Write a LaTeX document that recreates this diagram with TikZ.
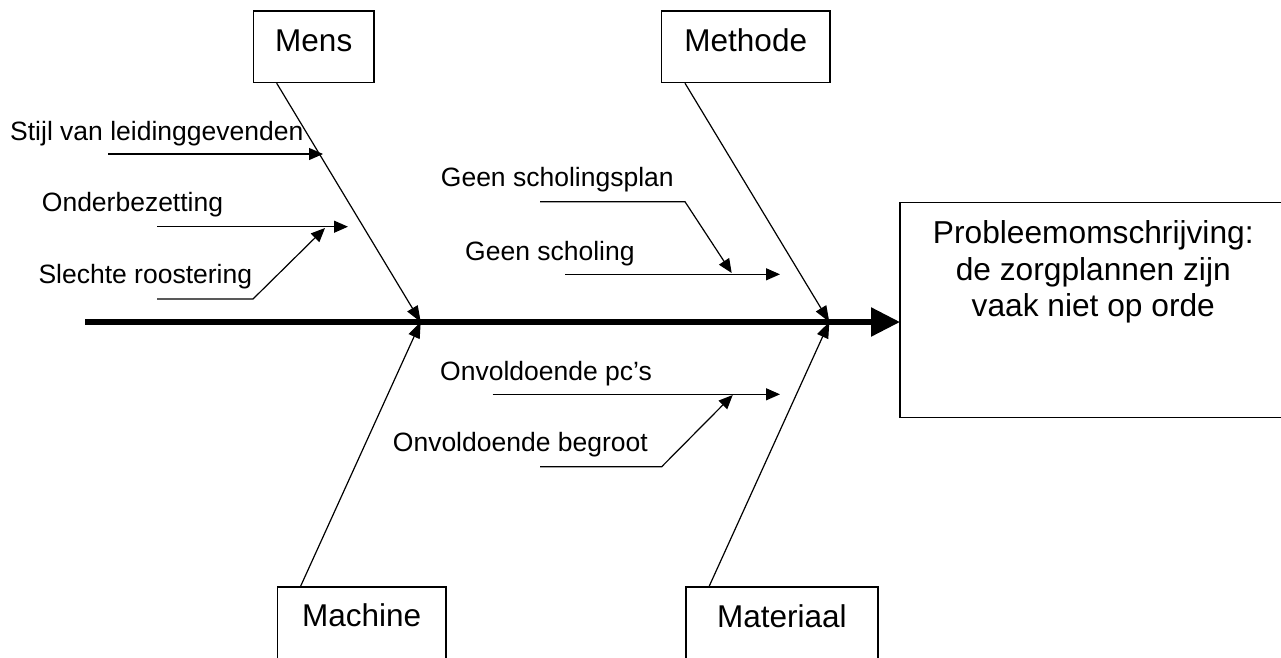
\documentclass[tikz,border=0pt]{standalone}
\usepackage{fontspec}
\setmainfont{Liberation Sans}
\usetikzlibrary{arrows.meta}
\begin{document}
\begin{tikzpicture}[x=1pt,y=-1pt,
  bonebox/.style={draw,line width=1.5pt,inner sep=0pt,anchor=north west,
     font=\fontsize{31.5}{36}\selectfont},
  lbl/.style={anchor=base west,inner sep=0pt,font=\fontsize{26.5}{30}\selectfont},
  bone/.style={line width=1.2pt,-{Triangle[length=16pt,width=12pt]}},
  cause/.style={line width=1.2pt,-{Triangle[length=14pt,width=12pt]}},
  spine/.style={line width=5.5pt,-{Triangle[length=29pt,width=28pt]}}]
\useasboundingbox (0,0) rectangle (1281,657);

% category boxes
\node[bonebox,minimum width=120.6pt,text height=40.7pt,text depth=31pt] (mens) at (252.7,10) {Mens};
\node[bonebox,minimum width=168.6pt,text height=40.7pt,text depth=31pt] (methode) at (660.7,10) {Methode};
\node[bonebox,minimum width=168.3pt,text height=39.7pt,text depth=50pt] (machine) at (276.7,586) {Machine};
\node[bonebox,minimum width=192.3pt,text height=40.7pt,text depth=50pt] (materiaal) at (685,586) {Materiaal};

% problem box (runs off the right edge)
\node[minimum width=387pt,minimum height=214.3pt,inner sep=0pt,anchor=north west] (prob) at (900,202.7) {};
\draw[line width=1.5pt] (prob.north east) -- (prob.north west) -- (prob.south west) -- (prob.south east);
\node[anchor=base,inner sep=0pt,font=\fontsize{31.7}{36.7}\selectfont] (probtxt) at (1093.3,243.3)
  {\begin{tabular}[t]{@{}c@{}}Probleemomschrijving:\\ de zorgplannen zijn\\ vaak niet op orde\end{tabular}};

% spine
\coordinate (tail) at (85,322);
\coordinate (jL) at (420.7,322);
\coordinate (jR) at (829.3,322);
\draw[spine] (tail) -- (tail -| prob.west);

% bones
\draw[bone] ([xshift=24pt]mens.south west) -- (jL);
\draw[bone] ([xshift=24pt]machine.north west) -- (jL);
\draw[bone] ([xshift=24.3pt]methode.south west) -- (jR);
\draw[bone] ([xshift=24.3pt]materiaal.north west) -- (jR);

% cause labels
\node[lbl] (stijl) at (10,140) {Stijl van leidinggevenden};
\node[lbl] (onder) at (41.7,211.7) {Onderbezetting};
\node[lbl] (slecht) at (38.3,283.3) {Slechte roostering};
\node[lbl] (gsp) at (440.7,186.7) {Geen scholingsplan};
\node[lbl] (gs) at (465,260) {Geen scholing};
\node[lbl] (opc) at (440,380) {Onvoldoende pc’s};
\node[lbl] (obg) at (392.7,451.7) {Onvoldoende begroot};

% cause arrows
\coordinate (a1s) at (108,154);   \coordinate (a1e) at (323,154);
\coordinate (a2s) at (157,226.7); \coordinate (a2e) at (348,226.7);
\coordinate (a3s) at (157,299);   \coordinate (a3k) at (253,299); \coordinate (a3e) at (325,228);
\coordinate (b1s) at (540,201.7); \coordinate (b1k) at (685,201.7); \coordinate (b1e) at (731.7,273);
\coordinate (b2s) at (565,274.3); \coordinate (b2e) at (780,274.3);
\coordinate (c1s) at (492.7,394.3); \coordinate (c1e) at (780,394.3);
\coordinate (c2s) at (540,466.7); \coordinate (c2k) at (661.7,466.7); \coordinate (c2e) at (732.7,395);

\draw[cause] (a1s) -- (a1e);
\draw[cause] (a2s) -- (a2e);
\draw[cause] (a3s) -- (a3k) -- (a3e);
\draw[cause] (b1s) -- (b1k) -- (b1e);
\draw[cause] (b2s) -- (b2e);
\draw[cause] (c1s) -- (c1e);
\draw[cause] (c2s) -- (c2k) -- (c2e);
\end{tikzpicture}
\end{document}
